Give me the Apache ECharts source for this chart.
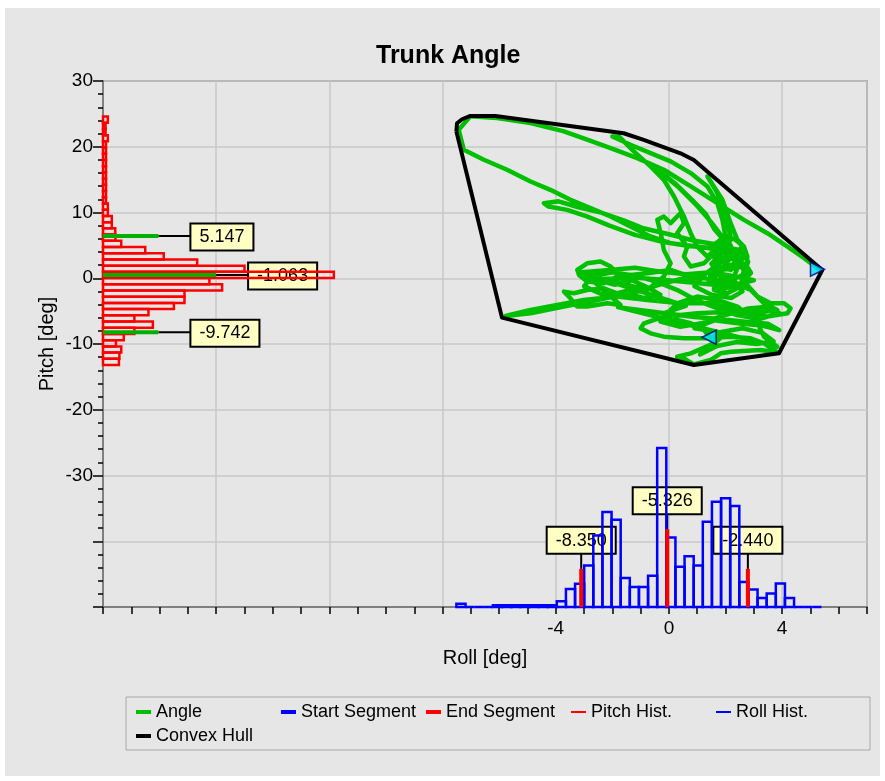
<!DOCTYPE html>
<html>
<head>
<meta charset="utf-8">
<script src="https://cdn.jsdelivr.net/npm/echarts/dist/echarts.min.js"></script>
<style>
html, body { margin: 0; padding: 0; background: #fff; }
#chart { width: 885px; height: 781px; }
</style>
</head>
<body>
<div id="chart"></div>
<script>
// axes
const rollMin = -20, rollMax = 7;
const pitchMin = -50, pitchMax = 30;
const countMax = 331;
const rollLabels = [-4, 0, 4];
const pitchLabelMin = -30;

// histograms (40 bins each)
const pitchBinStart = -13.2, pitchBinEnd = 24.6;
const pitchHistCounts = [6.9, 7.1, 7.9, 5.6, 9.0, 13.6, 21.6, 13.6, 19.7, 30.7, 35.3, 35.3, 51.6, 46.1, 100, 61.3, 40.8, 26.3, 18.3, 7.9,
    5.4, 5.3, 3.8, 3.8, 2.1, 2.1, 1.3, 1.3, 1.3, 1.3, 1.3, 1.3, 1.3, 1.3, 1.3, 1.3, 2.1, 1.1, 1.1, 2.1];
const rollBinStart = -7.51, rollBinEnd = 5.39;
const rollHistCounts = [2.1, 0, 0, 0, 1.1, 1.1, 1.1, 1.1, 1.1, 1.1, 1.1, 3.6, 11.4, 14.7, 26.1, 45.0, 59.8, 54.9, 18.3, 12.6,
    12.6, 19.6, 100, 43.8, 25.3, 32.0, 26.1, 53.7, 66.3, 68.4, 63.6, 15.8, 11.0, 5.7, 8.5, 14.8, 5.7, 0, 0, 0];

// statistic markers
const pitchMarkPos = [6.43, 0.5, -8.21];
const pitchMarkCount = [24, 49, 24];
const pitchMarkText = ['5.147', '-1.063', '-9.742'];
const rollMarkPos = [-3.1, -0.06, 2.79];
const rollMarkCount = [24, 49, 24];
const rollMarkText = ['-8.350', '-5.326', '-2.440'];

// trunk angle path [roll, pitch]
const anglePath = [
    [5.25, 1.52], [4.78, 3.05], [4.19, 4.82], [3.48, 6.85], [2.65, 8.88], [1.71, 11.42], [0.77, 13.96], [-0.18, 16.50], [-1.12, 18.27],
    [-2.06, 19.80], [-2.89, 21.07], [-3.71, 22.34], [-4.89, 23.60], [-6.07, 24.37], [-7.02, 24.62], [-7.43, 22.59], [-7.25, 19.54],
    [-6.54, 18.02], [-5.72, 16.50], [-4.89, 14.72], [-4.19, 13.45], [-3.48, 11.93], [-2.77, 10.66], [-2.06, 9.39], [-1.36, 7.87],
    [-0.65, 6.35], [0.06, 5.33], [1.00, 4.82], [1.83, 4.31], [2.65, 3.81],
    [2.54, 2.28], [2.18, 1.27], [1.71, 1.78], [1.59, 3.30], [1.95, 4.82], [2.30, 4.31], [2.54, 2.79], [2.30, 0.25], [1.83, -0.76],
    [1.47, 0.25], [1.71, 2.79], [2.18, 3.30], [2.65, 1.27], [2.54, -1.27], [2.06, -2.28], [1.59, -1.78],
    [1.8, 5.5], [2.3, 6.0], [2.6, 5.0], [2.4, 3.5], [2.0, 2.5], [1.6, 3.6], [1.9, 4.8], [2.5, 4.3], [2.8, 2.5], [2.6, 0.5],
    [2.1, -0.5], [1.7, 0.8], [2.0, 2.0], [2.7, 2.2], [2.9, 0.8], [2.5, -1.0], [1.9, -1.6], [1.4, -0.6], [1.5, 1.0], [2.2, 1.5],
    [2.4, 3.0], [1.9, 3.9], [1.5, 2.2], [1.8, 0.4], [2.3, -0.3], [2.6, -2.0], [2.2, -3.0], [1.5, -2.5], [0.9, -1.2], [1.3, 0.7],
    [1.9, 2.6], [2.2, 4.8], [2.0, 6.6], [1.6, 5.0],
    [1.5, 4.6], [0.7, 4.9], [-0.3, 5.6], [-1.2, 6.6], [-2.1, 8.0], [-2.9, 9.4], [-3.6, 10.4], [-4.25, 10.9], [-4.42, 11.42],
    [-4.4, 11.6], [-3.9, 11.7], [-3.2, 10.8], [-2.4, 10.0], [-1.6, 8.8], [-0.9, 7.6], [0.0, 6.7], [0.9, 5.7], [1.6, 5.2],
    [1.9, 6.0], [1.6, 7.5], [1.3, 9.8], [0.8, 12.0], [0.2, 14.5], [-0.4, 16.5], [0.3, 14.0], [1.0, 11.0], [1.5, 8.5], [2.0, 5.6],
    [2.2, 3.8], [1.9, 1.5],
    [0.77, 0.25], [0.06, 1.27], [-0.77, 0.76], [-1.83, 0.25], [-2.30, -0.76], [-2.89, -0.51], [-3.18, 0.51], [-3.24, 1.27],
    [-2.89, 2.28], [-2.42, 2.54], [-2.06, 1.78], [-1.71, 0.25], [-1.36, -1.78], [-1.83, -2.28], [-2.30, -1.52], [-2.89, -1.78],
    [-3.36, -2.28], [-3.71, -2.03], [-3.48, -3.05], [-3.24, -4.31], [-2.89, -4.31], [-2.18, -3.81], [-1.71, -4.06],
    [-3.0, 0.8], [-2.5, -0.3], [-1.9, -1.0], [-1.3, -0.3], [-0.8, -1.3], [-0.3, -2.5], [-0.9, -3.0], [-1.6, -2.2], [-2.4, -2.4],
    [-3.0, -1.2], [-2.7, 0.3], [-2.0, 0.9], [-1.2, 0.4], [-0.4, -0.6], [0.3, -1.8], [0.9, -3.2], [1.6, -4.4], [2.4, -5.6],
    [3.2, -6.2], [3.9, -5.3], [3.6, -4.3], [2.8, -4.6], [1.9, -5.7], [1.2, -6.8], [0.4, -7.4], [-0.3, -6.6], [-0.1, -5.2], [0.6, -4.2],
    [-3.1, 0.9], [-2.2, 1.2], [-1.2, 1.6], [-0.3, 1.0], [0.6, 0.6], [1.5, 0.9], [2.3, 0.3], [3.0, -0.3], [2.5, -0.8], [1.6, -1.0],
    [0.7, -0.6], [-0.3, -0.2], [-1.3, 0.1], [-2.3, -0.1],
    [-0.77, -1.78], [-0.18, 0.25], [0.06, 2.28], [-0.18, 4.31], [-0.29, 6.85], [-0.41, 8.88], [-0.18, 9.39], [0.06, 8.38],
    [0.29, 9.39], [0.41, 9.90], [0.53, 8.38], [0.29, 6.85], [0.65, 4.82], [0.53, 3.30], [0.77, 1.78], [1.24, 2.28],
    [1.71, 4.31], [2.00, 6.35], [1.89, 8.88], [1.71, 11.42], [1.36, 13.96], [0.77, 15.99], [0.06, 17.77], [-0.65, 19.04],
    [-1.36, 20.30], [-2.00, 21.57], [-1.77, 21.57],
    [-1.24, 19.29], [-0.65, 17.01], [-0.18, 14.97], [0.18, 12.44], [0.53, 9.39], [0.77, 6.85], [1.00, 4.82], [1.36, 3.30],
    [2.18, 6.35], [2.12, 7.36], [1.95, 9.90], [1.71, 12.94], [1.36, 15.48], [1.89, 11.93], [2.18, 8.38], [2.42, 5.84], [2.65, 4.82], [2.77, 3.30],
    [2.71, -0.76], [3.13, -2.79], [3.60, -3.81], [4.07, -3.81], [4.30, -4.57], [4.19, -5.33], [3.48, -5.84], [2.77, -5.33],
    [1.59, -3.81], [0.41, -3.81], [-0.77, -3.30], [-1.83, -2.79],
    [-3.01, -3.30], [-3.95, -4.06], [-4.89, -4.82], [-5.78, -5.74], [-4.89, -5.33], [-3.71, -4.31], [-2.54, -3.30], [-1.12, -2.03],
    [-0.18, -0.76], [0.53, 0.00], [1.24, 0.00], [2.18, -0.51], [2.89, -1.78],
    [3.36, -3.81], [3.83, -4.82], [3.36, -5.08], [2.18, -5.08], [1.00, -5.33], [-0.18, -5.84], [-0.88, -6.85], [-1.00, -7.61],
    [-0.65, -8.38], [-0.18, -8.88], [0.53, -9.14], [1.36, -9.14], [2.18, -8.88], [2.89, -9.14], [3.36, -9.90], [3.85, -11.3],
    [3.24, -10.91], [2.18, -11.17], [1.83, -11.42], [1.47, -12.44], [0.88, -13.1], [0.53, -12.18], [0.29, -11.93], [0.77, -11.42],
    [1.59, -9.90], [1.24, -7.87], [0.77, -6.85], [0.29, -6.35], [0.06, -4.82], [0.29, -3.81], [1.00, -2.79], [1.71, -3.30],
    [2.42, -4.31], [3.13, -6.85], [3.36, -8.88], [3.83, -10.41],
    [-1.8, -4.4], [-0.9, -4.9], [0.0, -5.4], [0.9, -5.9], [1.8, -6.2], [2.7, -6.6], [3.5, -6.9], [3.9, -7.9], [3.3, -7.2],
    [2.5, -6.9], [1.6, -6.4],
    [0.9, -7.6], [1.8, -8.2], [2.6, -7.6], [3.3, -8.3], [3.7, -9.6], [3.1, -10.0], [2.4, -9.7], [1.7, -10.3], [1.1, -11.6],
    [2.18, -7.87], [1.59, -8.88], [1.42, -8.98]
];

const hullPath = [
    [-7.51, 22.30], [-7.49, 23.57], [-7.31, 24.18], [-7.02, 24.68], [-6.13, 24.68], [-1.60, 22.05], [-0.89, 21.03],
    [-0.41, 20.27], [0.41, 19.01], [0.88, 17.99], [5.42, 1.26], [3.89, -11.41], [0.88, -13.19], [-5.90, -5.99], [-7.51, 22.30]
];

// segment arrow heads [roll, pitch, rotation]
const segmentArrows = [[5.25, 1.37, -90], [1.42, -8.98, 90]];

const FONT = 'Liberation Sans, Arial, sans-serif';
const thickIcon = 'path://M0,0h15v4h-15z';
const thinIcon = 'path://M0,0h15v2h-15z';

// bins
function makeBins(start, end, counts) {
    const w = (end - start) / counts.length;
    return counts.map((c, i) => [start + i * w, start + (i + 1) * w, c]);
}
const rollBins = makeBins(rollBinStart, rollBinEnd, rollHistCounts);
const pitchBins = makeBins(pitchBinStart, pitchBinEnd, pitchHistCounts).map(b => [b[2], b[0], b[1]]);

function rollHistItem(params, api) {
    const p0 = api.coord([api.value(0), 0]);
    const p1 = api.coord([api.value(1), api.value(2)]);
    return {
        type: 'rect',
        shape: { x: p0[0], y: p1[1], width: p1[0] - p0[0], height: p0[1] - p1[1] },
        style: { fill: 'none', stroke: '#0000ff', lineWidth: 2.5 }
    };
}

function pitchHistItem(params, api) {
    const p0 = api.coord([0, api.value(1)]);
    const p1 = api.coord([api.value(0), api.value(2)]);
    return {
        type: 'rect',
        shape: { x: p0[0], y: p1[1], width: p1[0] - p0[0], height: p0[1] - p1[1] },
        style: { fill: 'none', stroke: '#ff0000', lineWidth: 2.5 }
    };
}

function boxStyle(text, align, vAlign) {
    return {
        text: text, fill: '#000', fontSize: 18, fontFamily: FONT,
        align: align, verticalAlign: vAlign,
        backgroundColor: '#ffffc4', borderColor: '#000', borderWidth: 2,
        padding: [4, 8, 3, 8]
    };
}

function pitchLabelItem(params, api) {
    const end = api.coord([api.value(0), api.value(1)]);
    const bx = end[0] + 33;
    return {
        type: 'group',
        children: [
            { type: 'line', shape: { x1: end[0], y1: end[1], x2: bx, y2: end[1] }, style: { stroke: '#000', lineWidth: 2 } },
            { type: 'text', x: bx, y: end[1] + 1, style: boxStyle(pitchMarkText[params.dataIndex], 'left', 'middle') }
        ]
    };
}

function rollLabelItem(params, api) {
    const top = api.coord([api.value(0), api.value(1)]);
    const by = top[1] - 16;
    return {
        type: 'group',
        children: [
            { type: 'line', shape: { x1: top[0], y1: top[1], x2: top[0], y2: by }, style: { stroke: '#000', lineWidth: 2 } },
            { type: 'text', x: top[0], y: by, style: boxStyle(rollMarkText[params.dataIndex], 'center', 'bottom') }
        ]
    };
}

function pitchMarkItem(params, api) {
    const p0 = api.coord([0, api.value(1)]);
    const p1 = api.coord([api.value(0), api.value(1)]);
    return {
        type: 'line',
        shape: { x1: p0[0], y1: p0[1], x2: p1[0], y2: p1[1] },
        style: { stroke: '#00b000', lineWidth: 4 }
    };
}

function rollMarkItem(params, api) {
    const p0 = api.coord([api.value(0), 0]);
    const p1 = api.coord([api.value(0), api.value(1)]);
    return {
        type: 'rect',
        shape: { x: p0[0] - 2, y: p1[1], width: 4, height: p0[1] - p1[1] },
        style: { fill: '#ff0000' }
    };
}

const chart = echarts.init(document.getElementById('chart'));
chart.setOption({
    animation: false,
    backgroundColor: '#ffffff',
    title: {
        text: 'Trunk Angle', left: 371, top: 39,
        textStyle: { fontSize: 25, fontWeight: 'bold', color: '#000', fontFamily: FONT }
    },
    graphic: [
        { type: 'rect', z: -100, silent: true, shape: { x: 5, y: 8, width: 875, height: 768 }, style: { fill: '#e6e6e6' } },
        { type: 'rect', z: -90, silent: true, shape: { x: 126, y: 697, width: 744, height: 53 }, style: { fill: 'none', stroke: '#a8a8a8', lineWidth: 1 } }
    ],
    legend: {
        left: 136, top: 703, width: 730, padding: 0,
        itemWidth: 15, itemHeight: 14, itemGap: 6,
        textStyle: { fontSize: 18, fontFamily: FONT, color: '#000', width: 119, lineHeight: 14 },
        data: [
            { name: 'Angle', icon: thickIcon, itemStyle: { color: '#00c000' } },
            { name: 'Start Segment', icon: thickIcon, itemStyle: { color: '#0000ff' } },
            { name: 'End Segment', icon: thickIcon, itemStyle: { color: '#ff0000' } },
            { name: 'Pitch Hist.', icon: thinIcon, itemStyle: { color: '#ff0000' } },
            { name: 'Roll Hist.', icon: thinIcon, itemStyle: { color: '#0000ff' } },
            { name: 'Convex Hull', icon: thickIcon, itemStyle: { color: '#000000' } }
        ]
    },
    grid: {
        left: 103, right: 18, top: 81, bottom: 174, outerBoundsMode: 'none',
        show: true, borderColor: '#707070', borderWidth: 1.5
    },
    xAxis: [
        {
            type: 'value', min: rollMin, max: rollMax, interval: 1, position: 'bottom',
            name: 'Roll [deg]', nameLocation: 'middle', nameGap: 41, nameMoveOverlap: false,
            nameTextStyle: { fontSize: 20, color: '#000', fontFamily: FONT },
            axisLine: { show: true, onZero: false, lineStyle: { color: '#808080', width: 2 } },
            axisTick: { show: true, length: 7, lineStyle: { color: '#000', width: 1.5 } },
            axisLabel: {
                fontSize: 19, color: '#000', fontFamily: FONT, margin: 12, hideOverlap: false,
                formatter: v => (rollLabels.indexOf(v) >= 0 ? String(v) : '')
            },
            splitLine: { show: false }
        },
        {
            type: 'value', min: rollMin, max: rollMax, interval: 4, position: 'top',
            axisLine: { show: false, onZero: false }, axisTick: { show: false }, axisLabel: { show: false },
            splitLine: { show: true, lineStyle: { color: '#c8c8c8', width: 1.5 } }
        },
        { type: 'value', min: 0, max: countMax, show: false, axisLine: { onZero: false }, splitLine: { show: false } }
    ],
    yAxis: [
        {
            type: 'value', min: pitchMin, max: pitchMax, interval: 10, position: 'left',
            name: 'Pitch [deg]', nameLocation: 'middle', nameGap: 46, nameMoveOverlap: false,
            nameTextStyle: { fontSize: 20, color: '#000', fontFamily: FONT },
            axisLine: { show: true, onZero: false, lineStyle: { color: '#808080', width: 2 } },
            axisTick: { show: true, length: 10, lineStyle: { color: '#000', width: 1.5 } },
            minorTick: { show: true, splitNumber: 5, length: 5, lineStyle: { color: '#000', width: 1.5 } },
            axisLabel: {
                fontSize: 19, color: '#000', fontFamily: FONT, margin: 10, hideOverlap: false,
                formatter: v => (v >= pitchLabelMin ? String(v) : '')
            },
            splitLine: { show: true, lineStyle: { color: '#c8c8c8', width: 1.5 } }
        },
        { type: 'value', min: 0, max: countMax, show: false, axisLine: { onZero: false }, splitLine: { show: false } }
    ],
    series: [
        {
            name: 'Pitch labels', type: 'custom', z: 1, xAxisIndex: 2, yAxisIndex: 0,
            data: pitchMarkPos.map((p, i) => [pitchMarkCount[i], p]), renderItem: pitchLabelItem, silent: true
        },
        {
            name: 'Roll labels', type: 'custom', z: 1, xAxisIndex: 0, yAxisIndex: 1,
            data: rollMarkPos.map((r, i) => [r, rollMarkCount[i]]), renderItem: rollLabelItem, silent: true
        },
        {
            name: 'Angle', type: 'line', z: 2, xAxisIndex: 0, yAxisIndex: 0, data: anglePath,
            showSymbol: false, symbol: 'none', color: '#00c000',
            lineStyle: { color: '#00c000', width: 4.5, cap: 'round', join: 'round' }
        },
        { name: 'Start Segment', type: 'line', data: [], color: '#0000ff' },
        { name: 'End Segment', type: 'line', data: [], color: '#ff0000' },
        {
            name: 'Pitch Hist.', type: 'custom', z: 3, xAxisIndex: 2, yAxisIndex: 0, color: '#ff0000',
            data: pitchBins, encode: { x: 0, y: [1, 2] }, renderItem: pitchHistItem
        },
        {
            name: 'Roll Hist.', type: 'custom', z: 3, xAxisIndex: 0, yAxisIndex: 1, color: '#0000ff',
            data: rollBins, encode: { x: [0, 1], y: 2 }, renderItem: rollHistItem
        },
        {
            name: 'Convex Hull', type: 'line', z: 4, xAxisIndex: 0, yAxisIndex: 0, data: hullPath,
            showSymbol: false, symbol: 'none', color: '#000',
            lineStyle: { color: '#000', width: 4, join: 'round' }
        },
        {
            name: 'Pitch marks', type: 'custom', z: 5, xAxisIndex: 2, yAxisIndex: 0,
            data: pitchMarkPos.map((p, i) => [pitchMarkCount[i], p]), renderItem: pitchMarkItem, silent: true
        },
        {
            name: 'Roll marks', type: 'custom', z: 5, xAxisIndex: 0, yAxisIndex: 1,
            data: rollMarkPos.map((r, i) => [r, rollMarkCount[i]]), renderItem: rollMarkItem, silent: true
        },
        {
            name: 'Arrows', type: 'scatter', z: 6, xAxisIndex: 0, yAxisIndex: 0, symbol: 'triangle', symbolSize: 14,
            itemStyle: { color: '#00e5ff', borderColor: '#000080', borderWidth: 1.5 },
            data: segmentArrows.map(a => ({ value: [a[0], a[1]], symbolRotate: a[2] }))
        }
    ]
});
</script>
</body>
</html>
